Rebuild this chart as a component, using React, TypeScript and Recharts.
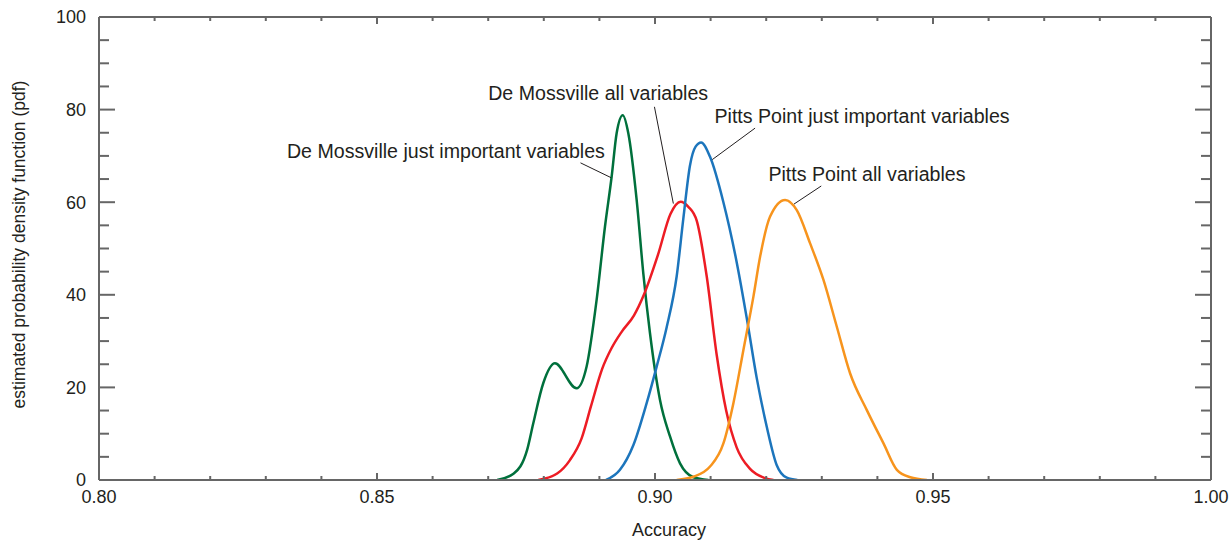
import React from 'react';
import { LineChart, Line, XAxis, YAxis, ReferenceLine, ReferenceDot } from 'recharts';

// accuracy axis ticks (minor every 0.01, labelled every 0.05)
const accuracyTicks = [0.8, 0.81, 0.82, 0.83, 0.84, 0.85, 0.86, 0.87, 0.88, 0.89, 0.9, 0.91, 0.92, 0.93, 0.94, 0.95, 0.96, 0.97, 0.98, 0.99, 1.0];
// pdf axis ticks (minor every 5, labelled every 20)
const pdfTicks = [0, 5, 10, 15, 20, 25, 30, 35, 40, 45, 50, 55, 60, 65, 70, 75, 80, 85, 90, 95, 100];

const deMossvilleImportantAcc = [0.8716, 0.8746, 0.877, 0.8781, 0.8799, 0.882, 0.8859, 0.8877, 0.8895, 0.891, 0.8922, 0.8931, 0.8942, 0.8952, 0.8967, 0.8979, 0.8991, 0.9009, 0.9027, 0.9045, 0.9069, 0.9096];
const deMossvilleImportantPdf = [0, 1.4, 6.5, 12.2, 20.9, 25.2, 19.8, 24.5, 38.9, 54.7, 65.5, 74.9, 78.8, 74.9, 60.5, 44.6, 31.7, 17.3, 9.4, 3.6, 0.6, 0];

const deMossvilleAllAcc = [0.879, 0.8824, 0.8847, 0.8868, 0.8885, 0.8905, 0.8922, 0.894, 0.8962, 0.898, 0.9005, 0.9028, 0.9046, 0.906, 0.9075, 0.9093, 0.9111, 0.9128, 0.9147, 0.9171, 0.9198, 0.9213];
const deMossvilleAllPdf = [0, 1.4, 4.3, 9.0, 16.0, 24.0, 28.5, 32.0, 35.5, 40.0, 48.5, 57.5, 60.1, 59.0, 56.0, 44.0, 27.0, 15.0, 7.0, 2.4, 0.4, 0];

const pittsImportantAcc = [0.8912, 0.8937, 0.8961, 0.8985, 0.9003, 0.9021, 0.9039, 0.9051, 0.9063, 0.9073, 0.9083, 0.9099, 0.9123, 0.9147, 0.9165, 0.9183, 0.9201, 0.9219, 0.9237, 0.9256];
const pittsImportantPdf = [0, 2.2, 7.5, 16.6, 24.5, 33.0, 44.0, 56.5, 68.0, 72.0, 72.9, 69.8, 60.0, 47.0, 35.0, 22.0, 11.5, 3.2, 0.5, 0];

const pittsAllAcc = [0.9039, 0.9069, 0.9099, 0.9123, 0.9141, 0.9159, 0.9177, 0.9189, 0.9207, 0.9234, 0.9255, 0.9279, 0.9303, 0.9327, 0.9351, 0.9381, 0.9411, 0.9435, 0.9459, 0.9489];
const pittsAllPdf = [0, 0.7, 2.9, 7.9, 16.6, 28.1, 39.6, 48.2, 56.9, 60.5, 58.3, 51.1, 43.2, 33.1, 23.0, 15.1, 7.9, 2.2, 0.6, 0];

const seriesNames = [
  'De Mossville just important variables',
  'De Mossville all variables',
  'Pitts Point just important variables',
  'Pitts Point all variables',
];

const toPoints = (xs: number[], ys: number[]) => xs.map((x, i) => ({ x, y: ys[i] }));

const series = [
  { name: seriesNames[0], color: '#00703c', data: toPoints(deMossvilleImportantAcc, deMossvilleImportantPdf) },
  { name: seriesNames[1], color: '#ed1c24', data: toPoints(deMossvilleAllAcc, deMossvilleAllPdf) },
  { name: seriesNames[2], color: '#1c75bc', data: toPoints(pittsImportantAcc, pittsImportantPdf) },
  { name: seriesNames[3], color: '#f7941d', data: toPoints(pittsAllAcc, pittsAllPdf) },
];

// callouts in data coordinates: text anchor + leader line
const callouts = [
  { text: seriesNames[0], at: { x: 0.8338, y: 71.1 }, line: [{ x: 0.8866, y: 68.5 }, { x: 0.8921, y: 65.3 }] },
  { text: seriesNames[1], at: { x: 0.87, y: 83.6 }, line: [{ x: 0.8999, y: 80.6 }, { x: 0.9033, y: 59.7 }] },
  { text: seriesNames[2], at: { x: 0.9107, y: 78.6 }, line: [{ x: 0.918, y: 76.0 }, { x: 0.9103, y: 69.2 }] },
  { text: seriesNames[3], at: { x: 0.9204, y: 66.1 }, line: [{ x: 0.9299, y: 63.5 }, { x: 0.925, y: 59.6 }] },
];

const axisColor = '#666';
const textColor = '#231f20';
const font = '"Liberation Sans", Arial, sans-serif';

const isMajorX = (v: number) => Math.abs(v * 20 - Math.round(v * 20)) < 1e-6;
const isMajorY = (v: number) => v % 20 === 0;

const BottomTick = ({ x, y, payload }: any) => {
  const major = isMajorX(payload.value);
  return (
    <g>
      <line x1={x} x2={x} y1={y} y2={y - (major ? 7 : 4)} stroke={axisColor} strokeWidth={2} />
      {major && (
        <text x={x} y={y + 23} textAnchor="middle" fontSize={18} fill={textColor} fontFamily={font}>
          {payload.value.toFixed(2)}
        </text>
      )}
    </g>
  );
};

const TopTick = ({ x, y, payload }: any) => {
  const major = isMajorX(payload.value);
  return <line x1={x} x2={x} y1={y} y2={y + (major ? 7 : 4)} stroke={axisColor} strokeWidth={2} />;
};

const LeftTick = ({ x, y, payload }: any) => {
  const major = isMajorY(payload.value);
  return (
    <g>
      <line x1={x} x2={x + (major ? 16 : 10)} y1={y} y2={y} stroke={axisColor} strokeWidth={2} />
      {major && (
        <text x={x - 13} y={y} dy="0.35em" textAnchor="end" fontSize={18} fill={textColor} fontFamily={font}>
          {payload.value}
        </text>
      )}
    </g>
  );
};

const RightTick = ({ x, y, payload }: any) => {
  const major = isMajorY(payload.value);
  return <line x1={x} x2={x - (major ? 16 : 10)} y1={y} y2={y} stroke={axisColor} strokeWidth={2} />;
};

export default function App() {
  return (
    <div style={{ position: 'absolute', left: 0, top: 0, background: '#fff' }}>
      <LineChart
        width={1231}
        height={542}
        margin={{ top: 16, right: 19, bottom: 32, left: 39 }}
        style={{ fontFamily: font }}
      >
        <XAxis
          type="number"
          dataKey="x"
          domain={[0.8, 1.0]}
          ticks={accuracyTicks}
          height={30}
          tickSize={0}
          tickMargin={0}
          tickLine={false}
          tick={BottomTick}
          axisLine={{ stroke: axisColor, strokeWidth: 2 }}
          allowDataOverflow
          label={{
            content: ({ viewBox }: any) => (
              <text
                x={viewBox.x + viewBox.width / 2 + 14}
                y={viewBox.y + 56}
                textAnchor="middle"
                fontSize={18}
                fill={textColor}
                fontFamily={font}
              >
                Accuracy
              </text>
            ),
          }}
        />
        <XAxis
          xAxisId="top"
          orientation="top"
          type="number"
          dataKey="x"
          domain={[0.8, 1.0]}
          ticks={accuracyTicks}
          height={1}
          tickSize={0}
          tickMargin={0}
          tickLine={false}
          tick={TopTick}
          axisLine={{ stroke: axisColor, strokeWidth: 2 }}
          allowDataOverflow
        />
        <YAxis
          type="number"
          domain={[0, 100]}
          ticks={pdfTicks}
          width={60}
          tickSize={0}
          tickMargin={0}
          tickLine={false}
          tick={LeftTick}
          axisLine={{ stroke: axisColor, strokeWidth: 2 }}
          allowDataOverflow
          label={{
            content: ({ viewBox }: any) => {
              const cx = viewBox.x - 20;
              const cy = viewBox.y + viewBox.height / 2 - 4;
              return (
                <text
                  x={cx}
                  y={cy}
                  dy="0.35em"
                  transform={`rotate(-90 ${cx} ${cy})`}
                  textAnchor="middle"
                  fontSize={17.5}
                  fill={textColor}
                  fontFamily={font}
                >
                  estimated probability density function (pdf)
                </text>
              );
            },
          }}
        />
        <YAxis
          yAxisId="right"
          orientation="right"
          type="number"
          domain={[0, 100]}
          ticks={pdfTicks}
          width={1}
          tickSize={0}
          tickMargin={0}
          tickLine={false}
          tick={RightTick}
          axisLine={{ stroke: axisColor, strokeWidth: 2 }}
          allowDataOverflow
        />

        {series.map((s) => (
          <Line
            key={s.name}
            data={s.data}
            dataKey="y"
            name={s.name}
            type="monotone"
            stroke={s.color}
            strokeWidth={2.5}
            dot={false}
            activeDot={false}
            isAnimationActive={false}
          />
        ))}
        {/* invisible copy so the top/right frame axes have data bound to them */}
        <Line
          data={series[3].data}
          xAxisId="top"
          yAxisId="right"
          dataKey="y"
          stroke="none"
          dot={false}
          activeDot={false}
          legendType="none"
          isAnimationActive={false}
        />

        {callouts.map((c) => (
          <ReferenceLine
            key={`line-${c.text}`}
            segment={c.line}
            stroke="#231f20"
            strokeWidth={1}
          />
        ))}
        {callouts.map((c) => (
          <ReferenceDot
            key={`text-${c.text}`}
            x={c.at.x}
            y={c.at.y}
            r={0}
            shape={(p: any) => (
              <text x={p.cx} y={p.cy} dy="0.35em" fontSize={19.6} fill={textColor} fontFamily={font}>
                {c.text}
              </text>
            )}
          />
        ))}
      </LineChart>
    </div>
  );
}
